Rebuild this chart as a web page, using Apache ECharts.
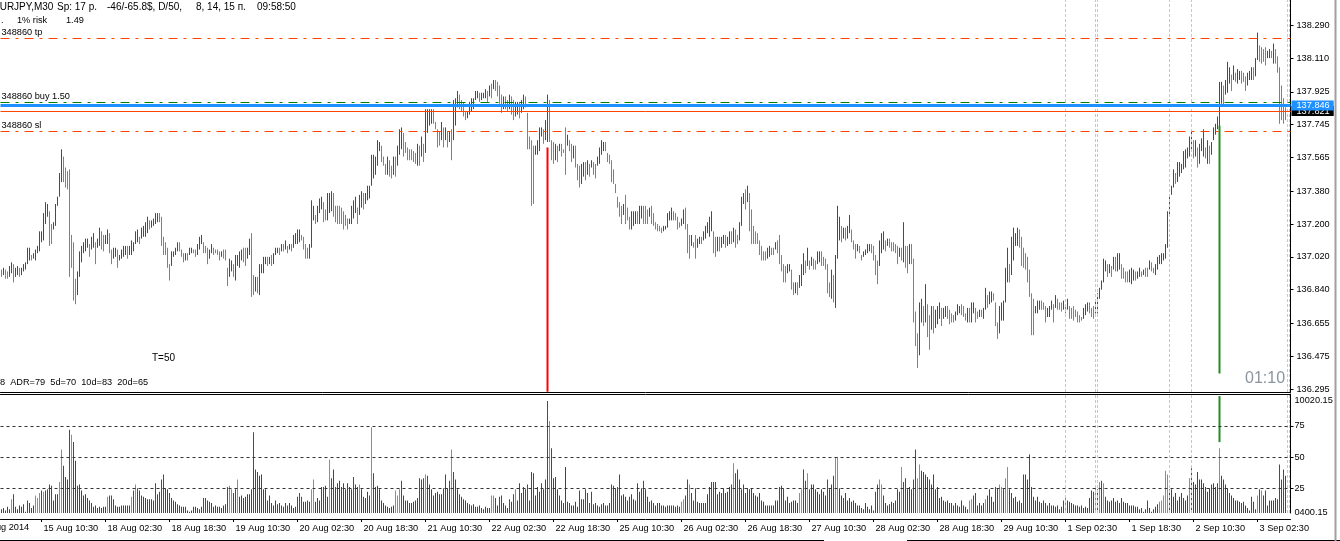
<!DOCTYPE html>
<html>
<head>
<meta charset="utf-8">
<title>EURJPY M30</title>
<script src="https://cdn.jsdelivr.net/npm/echarts@6/dist/echarts.min.js"></script>
<style>
html, body { margin: 0; padding: 0; background: #fff; }
#main { width: 1340px; height: 541px; }
</style>
</head>
<body>
<div id="main"></div>
<script>
// one label every 32 bars (16 h of M30); the first one sits left of the window
var timeLabels = ['14 Aug 2014', '15 Aug 10:30', '18 Aug 02:30', '18 Aug 18:30', '19 Aug 10:30',
	'20 Aug 02:30', '20 Aug 18:30', '21 Aug 10:30', '22 Aug 02:30', '22 Aug 18:30', '25 Aug 10:30',
	'26 Aug 02:30', '26 Aug 18:30', '27 Aug 10:30', '28 Aug 02:30', '28 Aug 18:30', '29 Aug 10:30',
	'1 Sep 02:30', '1 Sep 18:30', '2 Sep 10:30', '3 Sep 02:30'];

var priceTicks = [136.295, 136.475, 136.655, 136.840, 137.020, 137.200, 137.380, 137.565,
	137.745, 137.925, 138.110, 138.290];

// bar highs / lows, first visible bar to the current one
var barHigh = [
136.95,136.96,136.95,136.94,136.97,136.99,136.98,136.96,136.97,136.96,
136.96,136.98,136.99,137.07,137.07,137.03,137.04,137.06,137.08,137.16,
137.16,137.26,137.32,137.31,137.27,137.20,137.21,137.31,137.35,137.48,
137.61,137.57,137.51,137.49,137.50,137.14,137.10,136.90,136.94,137.05,
137.08,137.10,137.12,137.12,137.09,137.13,137.15,137.10,137.12,137.18,
137.16,137.14,137.14,137.17,137.15,137.06,137.07,137.07,137.06,137.03,
137.06,137.08,137.08,137.08,137.08,137.11,137.10,137.16,137.17,137.13,
137.18,137.19,137.21,137.24,137.22,137.22,137.23,137.26,137.26,137.26,
137.24,137.13,137.10,137.07,136.98,137.05,137.05,137.07,137.10,137.10,
137.06,137.04,137.04,137.04,137.07,137.07,137.06,137.06,137.09,137.13,
137.14,137.10,137.08,137.07,137.06,137.09,137.07,137.06,137.06,137.05,
137.05,137.06,137.06,136.96,137.01,137.00,136.98,137.03,137.03,137.05,
137.06,137.07,137.07,137.07,137.12,137.15,136.92,136.91,136.91,136.98,
136.98,137.02,137.02,137.02,137.02,137.03,137.04,137.07,137.07,137.07,
137.09,137.09,137.11,137.08,137.09,137.09,137.14,137.15,137.17,137.17,
137.14,137.13,137.09,137.07,137.09,137.33,137.30,137.25,137.30,137.34,
137.35,137.32,137.28,137.37,
137.37,137.38,137.37,137.30,137.30,137.30,137.29,137.27,137.25,137.23,
137.23,137.30,137.33,137.35,137.29,137.36,137.38,137.37,137.37,137.41,
137.41,137.58,137.58,137.57,137.66,137.65,137.63,137.57,137.53,137.57,
137.55,137.52,137.57,137.57,137.63,137.72,137.73,137.70,137.65,137.62,
137.61,137.61,137.60,137.59,137.64,137.63,137.68,137.64,137.83,137.83,
137.83,137.83,137.83,137.76,137.72,137.71,137.76,137.73,137.73,137.71,
137.71,137.72,137.88,137.89,137.93,137.91,137.88,137.87,137.82,137.82,
137.87,137.89,137.89,137.93,137.93,137.92,137.92,137.92,137.94,137.93,
137.96,137.97,137.99,137.99,137.98,137.96,137.91,137.90,137.90,137.88,
137.91,137.90,137.88,137.87,137.87,137.87,137.88,137.91,137.90,137.81,
137.68,137.66,137.63,137.63,137.66,137.73,137.73,137.72,137.77,137.91,
137.88,137.66,137.65,137.64,137.63,137.64,137.64,137.61,137.73,137.69,
137.66,137.64,137.63,137.63,137.53,137.52,137.53,137.54,137.54,137.55,
137.53,137.55,137.54,137.53,137.57,137.62,137.66,137.65,137.65,137.59,
137.58,137.55,137.50,137.42,137.35,137.32,137.30,137.31,137.36,137.29,
137.24,137.27,137.27,137.27,137.27,137.30,137.30,137.30,137.30,137.28,137.29,
137.30,137.26,137.21,137.20,137.19,137.18,137.19,137.19,137.26,137.27,
137.29,137.27,137.26,137.24,137.21,137.23,137.28,137.29,137.20,137.14,
137.14,137.10,137.14,137.12,137.13,137.13,137.16,137.19,137.21,137.24,
137.27,137.16,137.13,137.13,137.13,137.13,137.14,137.14,137.13,137.16,
137.16,137.18,137.17,137.14,137.21,137.35,137.37,137.39,137.41,137.37,
137.28,137.19,137.16,137.15,137.11,137.08,137.05,137.05,137.07,137.08,
137.07,137.07,137.10,137.11,137.14,137.03,136.98,136.97,136.98,136.98,
136.95,136.88,136.88,136.88,136.92,136.98,137.04,137.00,137.07,137.00,
137.02,137.01,137.00,137.05,137.05,137.05,137.02,137.01,136.98,136.88,
136.95,136.92,137.03,137.30,137.24,137.19,137.18,137.18,137.19,137.25,
137.17,137.11,137.09,137.09,137.08,137.03,137.05,137.06,137.09,137.09,
137.09,137.08,137.03,137.00,137.11,137.15,137.16,137.11,137.12,137.12,
137.10,137.10,137.09,137.08,137.07,137.07,137.21,137.08,137.08,137.09,
137.09,137.01,136.72,136.60,136.77,136.79,136.75,136.87,136.76,136.70,
136.75,136.75,136.73,136.75,136.77,136.74,136.74,136.75,136.75,136.73,
136.71,136.70,136.72,136.76,136.75,136.76,136.75,136.71,136.74,136.74,
136.77,136.77,136.74,136.72,136.73,136.73,136.74,136.85,136.81,136.83,
136.83,136.82,136.77,136.66,136.75,136.77,136.78,136.96,137.07,136.98,
137.13,137.18,137.15,137.18,137.17,137.13,137.07,137.04,137.02,136.95,
136.82,136.79,136.75,136.78,136.78,136.78,136.77,136.75,136.74,136.75,
136.78,136.76,136.81,136.79,136.77,136.77,136.78,136.76,136.79,136.75,
136.74,136.75,136.73,136.72,136.70,136.69,136.74,136.76,136.77,136.77,
136.74,136.75,136.78,136.82,136.85,136.89,137.01,137.00,136.98,136.98,
136.97,137.02,137.02,137.04,137.04,136.98,136.96,136.94,136.94,136.95,
136.96,136.95,136.94,136.94,136.96,136.94,136.95,136.96,136.96,137.00,
136.99,136.96,136.98,137.02,137.03,137.04,137.04,137.09,137.27,137.36,
137.41,137.50,137.48,137.54,137.54,137.53,137.60,137.61,137.62,137.68,
137.72,137.66,137.66,137.62,137.64,137.67,137.72,137.62,137.66,137.63,
137.65,137.73,137.75,137.79,137.98,137.98,137.96,137.99,138.09,138.06,
138.02,138.07,138.03,138.05,138.04,138.04,138.03,138.01,138.03,138.04,
138.06,138.06,138.11,138.25,138.18,138.17,138.16,138.17,138.15,138.16,
138.15,138.19,138.16,138.12,138.06,137.96,137.89,137.84
];

var barLow = [
136.91,136.92,136.90,136.90,136.91,136.93,136.88,136.91,136.92,136.91,
136.92,136.94,136.95,136.98,137.00,137.00,137.01,137.00,137.04,137.05,
137.10,137.11,137.20,137.24,137.08,137.09,137.17,137.19,137.30,137.35,
137.43,137.43,137.40,137.39,136.91,136.96,136.78,136.76,136.81,136.91,
136.99,137.04,137.05,137.07,137.02,137.06,137.07,136.98,137.07,137.08,
137.06,137.05,137.09,137.09,137.04,136.98,137.01,137.02,136.96,137.00,
137.01,137.02,137.03,137.01,137.03,137.03,137.05,137.09,137.10,137.09,
137.12,137.13,137.13,137.15,137.17,137.18,137.19,137.20,137.21,137.21,
137.08,137.03,137.03,136.96,136.89,136.97,137.02,137.03,137.05,137.05,
137.02,136.99,137.00,137.00,137.03,137.04,137.04,137.02,137.03,137.06,
137.09,137.04,137.04,136.98,137.01,137.04,137.03,137.04,137.03,137.00,
137.02,137.01,137.00,136.86,136.91,136.94,136.91,136.89,136.97,136.96,
137.00,136.99,136.97,137.01,137.03,136.80,136.81,136.83,136.82,136.81,
136.93,136.93,136.98,136.97,136.98,136.97,136.98,137.03,137.04,137.03,
137.05,137.05,137.06,137.04,137.06,137.05,137.07,137.09,137.09,137.10,
137.11,137.06,137.01,137.01,137.01,137.07,137.22,137.20,137.21,137.26,
137.28,137.21,137.22,137.22,
137.26,137.27,137.24,137.21,137.20,137.20,137.20,137.17,137.19,137.17,
137.20,137.20,137.23,137.26,137.20,137.25,137.29,137.28,137.31,137.33,
137.34,137.41,137.45,137.47,137.52,137.60,137.54,137.52,137.47,137.47,
137.46,137.45,137.47,137.46,137.52,137.58,137.61,137.57,137.59,137.55,
137.55,137.55,137.54,137.53,137.52,137.52,137.57,137.54,137.59,137.70,
137.74,137.75,137.75,137.72,137.62,137.63,137.66,137.62,137.66,137.62,
137.65,137.55,137.66,137.74,137.84,137.83,137.82,137.79,137.77,137.78,
137.80,137.82,137.83,137.88,137.89,137.87,137.88,137.89,137.89,137.87,
137.90,137.89,137.94,137.93,137.90,137.86,137.81,137.83,137.83,137.82,
137.83,137.80,137.77,137.79,137.80,137.78,137.81,137.83,137.84,137.61,
137.61,137.30,137.31,137.58,137.58,137.60,137.68,137.64,137.66,137.65,
137.65,137.55,137.53,137.55,137.54,137.60,137.57,137.59,137.47,137.63,
137.60,137.54,137.56,137.51,137.44,137.40,137.42,137.46,137.44,137.47,
137.46,137.51,137.47,137.45,137.52,137.53,137.58,137.60,137.60,137.54,
137.53,137.43,137.42,137.37,137.29,137.24,137.20,137.25,137.20,137.22,
137.17,137.17,137.19,137.20,137.20,137.20,137.23,137.20,137.20,137.20,137.24,
137.20,137.19,137.17,137.16,137.16,137.15,137.16,137.17,137.18,137.22,
137.22,137.22,137.22,137.17,137.18,137.19,137.20,137.17,137.04,137.01,
137.08,137.07,137.01,137.07,137.09,137.09,137.11,137.12,137.15,137.13,
137.16,137.04,137.02,137.05,137.05,137.07,137.09,137.07,137.08,137.09,
137.09,137.10,137.07,137.09,137.11,137.19,137.31,137.28,137.32,137.16,
137.09,137.09,137.09,137.09,137.03,137.00,137.00,137.00,137.01,137.02,
137.03,137.03,137.06,137.04,136.98,136.94,136.88,136.88,136.93,136.94,
136.84,136.81,136.82,136.81,136.85,136.86,136.92,136.93,136.97,136.95,
136.97,136.95,136.95,136.98,136.99,136.97,136.97,136.95,136.82,136.80,
136.79,136.77,136.74,137.01,137.11,137.10,137.12,137.11,137.12,137.15,
137.10,137.06,137.01,137.05,137.04,137.00,137.02,137.03,137.04,137.05,
137.04,137.00,136.92,136.87,136.97,137.04,137.06,137.05,137.08,137.07,
137.05,137.05,137.04,136.98,137.02,137.00,136.99,136.96,136.93,136.98,
136.98,136.66,136.53,136.41,136.48,136.66,136.64,136.66,136.58,136.51,
136.62,136.60,136.63,136.65,136.68,136.64,136.68,136.69,136.68,136.65,
136.66,136.66,136.67,136.70,136.71,136.70,136.69,136.67,136.66,136.66,
136.66,136.71,136.66,136.68,136.69,136.69,136.68,136.73,136.74,136.76,
136.77,136.78,136.64,136.57,136.60,136.67,136.67,136.77,136.88,136.88,
136.92,137.00,137.08,137.08,137.07,136.97,136.96,136.95,136.88,136.80,
136.59,136.59,136.71,136.71,136.73,136.73,136.73,136.66,136.69,136.69,
136.73,136.66,136.74,136.73,136.73,136.72,136.73,136.71,136.73,136.68,
136.68,136.67,136.69,136.66,136.66,136.67,136.68,136.70,136.72,136.71,
136.69,136.68,136.71,136.71,136.79,136.84,136.88,136.94,136.91,136.93,
136.91,136.95,136.94,136.94,136.95,136.90,136.90,136.88,136.88,136.88,
136.87,136.89,136.89,136.90,136.91,136.91,136.92,136.91,136.91,136.95,
136.94,136.93,136.92,136.95,136.98,136.98,137.00,137.01,137.07,137.25,
137.36,137.40,137.42,137.43,137.46,137.48,137.50,137.51,137.56,137.57,
137.60,137.56,137.57,137.51,137.53,137.60,137.57,137.56,137.53,137.53,
137.58,137.66,137.69,137.72,137.69,137.86,137.85,137.91,137.92,137.97,
137.93,137.99,137.98,137.97,137.99,137.97,137.98,137.93,137.96,137.99,
137.99,137.99,138.01,138.10,138.09,138.08,138.09,138.07,138.11,138.11,
138.11,138.08,138.08,138.03,137.75,137.77,137.75,137.77
];

// volume indicator, same bars
var volume = [
8,9,7,10,8,16,20,10,8,11, 10,12,6,15,13,9,11,19,17,21,
23,22,23,24,28,27,15,20,20,30, 56,43,34,32,72,68,62,47,27,28,
23,19,20,17,15,13,10,11,9,10, 9,10,10,18,19,19,16,11,10,10,
11,11,11,11,11,18,23,28,25,23, 19,18,17,16,16,16,15,29,20,22,
32,36,25,24,21,17,15,14,12,11, 10,10,10,7,6,7,10,10,9,8,
10,17,17,15,14,13,10,11,10,10, 9,11,12,26,27,24,21,24,32,18,
19,17,18,20,20,24,70,40,38,35, 36,24,24,15,19,13,11,15,12,13,
11,10,13,11,13,11,9,10,18,21, 18,14,14,15,14,24,32,14,17,15,
26,26,27,18,48,33,40,26,29,31, 26,29,24,29,26,24,34,28,26,28,
24,18,17,22,19,74,37,26,27,24, 15,13,11,10,9,10,11,23,19,24,
31,19,15,15,13,13,14,15,17,33, 32,33,36,35,28,24,19,21,22,20,
20,25,36,25,31,56,38,32,24,20, 18,16,15,13,12,11,12,10,10,11,
9,8,10,9,9,19,19,17,11,18, 19,13,11,9,16,14,20,24,15,29,
21,26,24,28,15,38,37,19,26,22, 29,24,32,95,79,57,33,34,24,19,
15,13,42,14,13,11,11,14,10,23, 16,16,24,21,13,22,12,13,11,10,
12,13,11,11,13,28,27,25,26,36, 19,20,18,15,18,20,16,15,29,22,
25,31,24,18,14,15,13,11,13,13, 11,11,10,11,11,11,11,10,11,10,
14,16,19,32,28,21,15,25,14,13, 13,13,13,20,26,30,30,30,20,22,
21,25,21,22,26,28,45,37,40,32, 24,28,21,25,24,25,21,19,18,21,
15,14,11,11,11,11,11,15,15,26, 27,25,15,18,13,14,15,15,13,21,
24,40,31,37,24,28,28,24,22,20, 24,22,19,32,24,28,35,50,50,25,
19,17,21,15,17,14,15,13,11,11, 9,8,13,10,8,11,7,22,28,32,
28,19,13,11,12,14,13,15,24,22, 42,30,33,24,26,24,32,56,33,44,
39,38,36,34,32,28,36,24,26,17, 18,15,14,15,13,13,11,13,11,10,
15,11,10,8,15,16,19,21,11,13, 11,13,16,19,24,18,14,26,25,28,
26,25,33,42,24,21,17,18,14,15, 13,36,36,32,52,26,18,15,18,14,
13,15,13,11,13,11,11,10,11,8, 10,15,17,15,14,13,12,11,11,10,
11,9,10,9,17,23,22,26,24,30, 31,29,18,15,14,15,17,14,15,13,
17,14,13,13,11,11,11,10,10,8, 9,6,8,15,9,6,8,10,12,14,
15,19,39,36,24,24,18,21,15,18, 21,17,15,19,33,41,30,28,38,32,
32,29,26,22,25,28,29,26,29,57, 35,32,28,25,21,19,17,15,15,14,
13,14,11,9,7,18,14,8,19,24, 23,19,23,11,15,15,15,17,16,44,
32,40,35
];

// bar numbers (from the first visible bar) of the coloured volume columns
var redBars = [6,20,24,34,54,55,66,68,79,80,81,101,102,113,117,126,148,149,176,200,209,210,211,
	254,256,259,262,263,273,305,306,309,342,343,355,389,390,391,401,413,416,437,438,456,457,
	486,487,497,498,514,544,545,546,548,595,629,639,641];
var crimsonBars = [22,31,36,69,103,104,116,127,128,160,161,166,213,221,222,224,249,250,265,275,
	293,295,307,308,354,356,357,367,449,451,511,512,531,533,534,536,577,578,598,631,638,640,642];
var limeBars = [5,17,18,19,21,29,30,35,53,65,67,114,115,118,155,156,164,179,185,197,198,199,212,
	225,245,246,257,274,340,341,344,366,399,400,403,417,418,439,440,450,458,459,484,485,492,499,
	500,502,503,532,547,549,551,579,580,581,582,583,594,609,628,630];
var greenBars = [13,23,25,56,77,150,165,186,226,247,266,289,292,318,321,347,368,402,448,452,493,
	550,573,584,625,632];

// thick signal columns
var signalBars = [273, 609];
var signalFrom = [137.62, 136.38];
var signalTo = [136.28, 137.74];
var volSignalBars = [609];
var volSignalFrom = [62];
var volSignalTo = [99];

var sessionLines = [532, 547, 548, 584, 595, 643, 644];

var tpPrice = 138.223;
var buyPrice = 137.872;
var bidPrice = 137.846;
var lastPrice = 137.821;
var slPrice = 137.713;
var volLevels = [25, 50, 75];
var volTopLabel = '10020.15';
var volBottomLabel = '0400.15';

var nCats = 645;        // bars plus two empty slots of chart shift
var labelStart = 20;    // bar of '15 Aug 10:30'
var font = 'Liberation Sans';

var cats = [];
for (var i = 0; i < nCats; i++) cats.push(String(i));

function isLabelBar(index) {
	return index >= labelStart && (index - labelStart) % 32 === 0;
}

var priceData = barHigh.map(function (h, k) {
	var l = barLow[k];
	var up = k > 0 && (h + l) > (barHigh[k - 1] + barLow[k - 1]);
	return up ? [k, l, h, l, h] : [k, h, l, l, h];
});

var signalData = signalBars.map(function (p, k) {
	var a = signalFrom[k], b = signalTo[k];
	return [p, a, b, Math.min(a, b), Math.max(a, b)];
});
var volSignalData = volSignalBars.map(function (p, k) {
	var a = volSignalFrom[k], b = volSignalTo[k];
	return [p, a, b, Math.min(a, b), Math.max(a, b)];
});

var volColor = {};
redBars.forEach(function (p) { volColor[p] = '#ff0000'; });
crimsonBars.forEach(function (p) { volColor[p] = '#b0173c'; });
limeBars.forEach(function (p) { volColor[p] = '#32cd32'; });
greenBars.forEach(function (p) { volColor[p] = '#008000'; });
var volData = volume.map(function (v, k) {
	return { value: [k, v], itemStyle: { color: volColor[k] || '#2f4f4f' } };
});

function sessionMarks() {
	return sessionLines.map(function (p) {
		return { xAxis: p, lineStyle: { color: '#90ee90', type: [3, 2], width: 1 }, label: { show: false } };
	});
}

function orderLine(price, color, text) {
	return { yAxis: price, lineStyle: { color: color, type: [9, 6, 3, 6], width: 1 },
		label: { show: true, position: 'insideStartTop', distance: 1, formatter: text,
			color: '#000', fontSize: 9.2, fontFamily: font } };
}

function priceTag(price, lineColor, lineWidth, tagColor) {
	return { yAxis: price, lineStyle: { color: lineColor, type: 'solid', width: lineWidth },
		label: { show: true, position: 'end', distance: 1, formatter: price.toFixed(3),
			color: '#fff', backgroundColor: tagColor, padding: [1, 4, 0, 5], lineHeight: 9,
			fontSize: 9.2, fontFamily: font } };
}

var myChart = echarts.init(document.getElementById('main'));

myChart.setOption({
	animation: false,
	backgroundColor: '#fff',
	grid: [
		{ left: 0.5, width: 1290, top: 0, height: 392 },
		{ left: 0.5, width: 1290, top: 394, height: 119 }
	],
	xAxis: [
		{ gridIndex: 0, type: 'category', data: cats, position: 'bottom',
			axisLine: { lineStyle: { color: '#000', width: 1 } },
			axisTick: { show: false }, axisLabel: { show: false }, splitLine: { show: false } },
		{ gridIndex: 1, type: 'category', data: cats, position: 'bottom', offset: 6,
			axisLine: { lineStyle: { color: '#000', width: 1 } },
			axisTick: { show: true, length: 3, alignWithLabel: true, lineStyle: { color: '#000' },
				interval: isLabelBar },
			axisLabel: {
				show: true, align: 'left', margin: 5, padding: [0, 0, 0, 2],
				color: '#000', fontSize: 9.2, fontFamily: font,
				interval: isLabelBar,
				formatter: function (value, index) {
					return timeLabels[(index - labelStart) / 32 + 1] || '';
				}
			},
			splitLine: { show: false } },
		{ gridIndex: 1, type: 'category', data: cats, position: 'top',
			axisLine: { lineStyle: { color: '#000', width: 1 } },
			axisTick: { show: false }, axisLabel: { show: false }, splitLine: { show: false } }
	],
	yAxis: [
		{ gridIndex: 0, type: 'value', position: 'right', min: 136.2785, max: 138.429,
			axisLine: { show: true, lineStyle: { color: '#000' } },
			axisTick: { show: true, length: 3, customValues: priceTicks, lineStyle: { color: '#000' } },
			axisLabel: { show: true, customValues: priceTicks, margin: 6, color: '#000',
				fontSize: 9.2, fontFamily: font,
				formatter: function (v) { return v.toFixed(3); } },
			splitLine: { show: false } },
		{ gridIndex: 1, type: 'value', position: 'right', min: 5, max: 100.7,
			axisLine: { show: true, lineStyle: { color: '#000' } },
			axisTick: { show: true, length: 3, customValues: volLevels, lineStyle: { color: '#000' } },
			axisLabel: { show: true, customValues: [5.3].concat(volLevels, [95.9]), margin: 4,
				color: '#000', fontSize: 9.2, fontFamily: font,
				formatter: function (v) {
					if (v > 90) return volTopLabel;
					if (v < 10) return volBottomLabel;
					return String(v);
				} },
			splitLine: { show: false } }
	],
	series: [
		{
			name: 'EURJPY',
			type: 'candlestick',
			xAxisIndex: 0, yAxisIndex: 0,
			large: false,
			barWidth: 1,
			clip: false,
			encode: { x: 0, y: [1, 2, 3, 4] },
			data: priceData,
			itemStyle: { color: '#008000', color0: '#808080', borderColor: '#008000', borderColor0: '#808080', borderWidth: 1 },
			emphasis: { disabled: true },
			markLine: {
				silent: true, symbol: 'none', animation: false,
				label: { show: false },
				data: sessionMarks().concat([
					orderLine(tpPrice, '#ff4500', '348860 tp'),
					orderLine(buyPrice, '#008000', '348860 buy 1.50'),
					orderLine(slPrice, '#ff4500', '348860 sl'),
					priceTag(lastPrice, '#ff4500', 1, '#000'),
					priceTag(bidPrice, '#1e90ff', 3, '#1e90ff')
				])
			}
		},
		{
			name: 'signal',
			type: 'candlestick',
			xAxisIndex: 0, yAxisIndex: 0,
			large: false,
			barWidth: 3,
			clip: false,
			encode: { x: 0, y: [1, 2, 3, 4] },
			data: signalData,
			itemStyle: { color: '#228b22', color0: '#ff0000', borderColor: '#228b22', borderColor0: '#ff0000', borderWidth: 0 },
			emphasis: { disabled: true }
		},
		{
			name: 'volume',
			type: 'bar',
			xAxisIndex: 1, yAxisIndex: 1,
			barWidth: 1,
			large: false,
			data: volData,
			emphasis: { disabled: true },
			markLine: {
				silent: true, symbol: 'none', animation: false,
				label: { show: false },
				data: sessionMarks().concat(volLevels.map(function (v) {
					return { yAxis: v, lineStyle: { color: '#333', type: [3, 3], width: 1 } };
				}))
			}
		},
		{
			name: 'volume signal',
			type: 'candlestick',
			xAxisIndex: 1, yAxisIndex: 1,
			large: false,
			barWidth: 3,
			clip: false,
			encode: { x: 0, y: [1, 2, 3, 4] },
			data: volSignalData,
			itemStyle: { color: '#228b22', color0: '#228b22', borderColor: '#228b22', borderColor0: '#228b22', borderWidth: 0 },
			emphasis: { disabled: true }
		}
	],
	graphic: [
		{ type: 'text', x: -7, y: 2, style: { text: 'EURJPY,M30', font: '10px ' + font, fill: '#000' } },
		{ type: 'text', x: 57, y: 2, style: { text: 'Sp: 17 р.', font: '10px ' + font, fill: '#000' } },
		{ type: 'text', x: 107, y: 2, style: { text: '-46/-65.8$, D/50,', font: '10px ' + font, fill: '#000' } },
		{ type: 'text', x: 196, y: 2, style: { text: '8, 14, 15 п.', font: '10px ' + font, fill: '#000' } },
		{ type: 'text', x: 257, y: 2, style: { text: '09:58:50', font: '10px ' + font, fill: '#000' } },
		{ type: 'text', x: 1, y: 16, style: { text: '.', font: '9.2px ' + font, fill: '#000' } },
		{ type: 'text', x: 17, y: 16, style: { text: '1% risk', font: '9.2px ' + font, fill: '#000' } },
		{ type: 'text', x: 66, y: 16, style: { text: '1.49', font: '9.2px ' + font, fill: '#000' } },
		{ type: 'text', x: 152, y: 353, style: { text: 'T=50', font: '10px ' + font, fill: '#000' } },
		{ type: 'text', x: 0, y: 378, style: { text: '8  ADR=79  5d=70  10d=83  20d=65', font: '9.2px ' + font, fill: '#000' } },
		{ type: 'text', x: 1245, y: 371, style: { text: '01:10', font: '16px ' + font, fill: '#8a949e' } },
		{ type: 'text', x: -23, y: 523, style: { text: timeLabels[0], font: '9.2px ' + font, fill: '#000' } },
		// window frame: bottom edge and right scrollbar edge
		{ type: 'line', shape: { x1: 0, y1: 540.5, x2: 824, y2: 540.5 }, style: { stroke: '#000', lineWidth: 1 } },
		{ type: 'line', shape: { x1: 907, y1: 540.5, x2: 1340, y2: 540.5 }, style: { stroke: '#000', lineWidth: 1 } },
		{ type: 'line', shape: { x1: 1335.5, y1: 0, x2: 1335.5, y2: 541 }, style: { stroke: '#a0a0a0', lineWidth: 2 } }
	]
});
</script>
</body>
</html>
